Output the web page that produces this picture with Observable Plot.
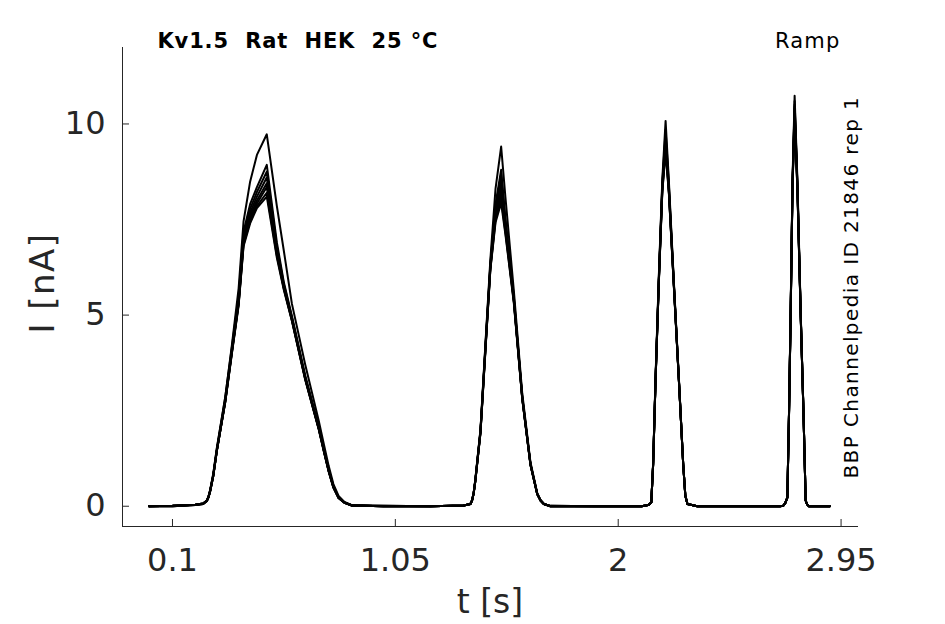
<!DOCTYPE html>
<html><head><meta charset="utf-8">
<script src="https://cdn.jsdelivr.net/npm/d3@7"></script>
<script src="https://cdn.jsdelivr.net/npm/@observablehq/plot@0.6"></script>
<style>
html,body{margin:0;padding:0;background:#fff;}
svg text{white-space:pre;}
</style></head><body><div id="chart"></div>
<script>
// time points (s)
const time = [
 0.000, 0.100, 0.197, 0.231,
 0.247, 0.254, 0.261, 0.274, 0.289, 0.325, 0.353, 0.382,
 0.403, 0.431, 0.460, 0.502,
 0.545, 0.575, 0.609, 0.666, 0.723, 0.746, 0.766, 0.786, 0.808, 0.833, 0.865,
 1.000, 1.200,
 1.341, 1.370, 1.377, 1.384, 1.391, 1.413, 1.434, 1.455, 1.477, 1.501,
 1.519, 1.555, 1.591, 1.626, 1.655, 1.669, 1.683, 1.711,
 1.900, 2.100, 2.129, 2.141, 2.149, 2.159, 2.173, 2.188, 2.202,
 2.216, 2.237, 2.259, 2.277, 2.286, 2.295, 2.337,
 2.500, 2.690, 2.703, 2.712, 2.721, 2.728, 2.735, 2.743, 2.752,
 2.764, 2.778, 2.790, 2.799, 2.805, 2.813, 2.902
];
// currents (nA), one array per sweep
const trace1 = [
 0.00, 0.01, 0.04, 0.07,
 0.15, 0.26, 0.43, 0.84, 1.50, 2.85, 4.20, 5.70,
 7.45, 8.49, 9.19, 9.73,
 7.85, 6.67, 5.30, 3.70, 2.25, 1.60, 1.05, 0.58, 0.27, 0.11, 0.03,
 0.01, 0.00,
 0.02, 0.06, 0.15, 0.35, 0.70, 2.02, 4.25, 6.45, 8.30, 9.41,
 8.10, 5.65, 2.95, 1.15, 0.34, 0.16, 0.06, 0.01,
 0.00, 0.00, 0.04, 0.10, 1.15, 3.35, 6.00, 8.55, 10.08,
 8.50, 5.90, 3.30, 1.12, 0.29, 0.06, 0.00,
 0.00, 0.00, 0.01, 0.08, 0.24, 2.45, 5.10, 8.55, 10.74,
 8.50, 5.05, 2.42, 0.15, 0.05, 0.00, 0.00
];
const trace2 = [
 0.00, 0.01, 0.04, 0.07,
 0.16, 0.27, 0.44, 0.86, 1.52, 2.86, 4.15, 5.50,
 7.19, 7.90, 8.35, 8.93,
 6.90, 5.85, 4.98, 3.42, 2.10, 1.48, 0.96, 0.53, 0.24, 0.10, 0.02,
 0.01, 0.00,
 0.02, 0.06, 0.16, 0.36, 0.70, 2.00, 4.20, 6.35, 7.90, 8.80,
 7.55, 5.50, 2.88, 1.12, 0.33, 0.15, 0.06, 0.01,
 0.00, 0.00, 0.04, 0.10, 1.13, 3.30, 5.95, 8.45, 9.85,
 8.40, 5.85, 3.28, 1.10, 0.28, 0.06, 0.00,
 0.00, 0.00, 0.01, 0.08, 0.23, 2.42, 5.05, 8.45, 10.60,
 8.40, 5.00, 2.40, 0.15, 0.05, 0.00, 0.00
];
const trace3 = [
 0.00, 0.00, 0.03, 0.06,
 0.14, 0.24, 0.40, 0.80, 1.45, 2.78, 4.08, 5.40,
 7.05, 7.78, 8.22, 8.75,
 6.80, 5.80, 4.95, 3.38, 2.07, 1.46, 0.94, 0.52, 0.23, 0.10, 0.02,
 0.00, 0.00,
 0.02, 0.06, 0.15, 0.35, 0.68, 1.98, 4.16, 6.30, 7.80, 8.70,
 7.45, 5.45, 2.85, 1.10, 0.32, 0.15, 0.06, 0.00,
 0.00, 0.00, 0.03, 0.10, 1.12, 3.28, 5.90, 8.40, 9.70,
 8.35, 5.85, 3.27, 1.10, 0.28, 0.06, 0.00,
 0.00, 0.00, 0.01, 0.08, 0.23, 2.40, 5.02, 8.45, 10.50,
 8.38, 5.00, 2.40, 0.15, 0.05, 0.00, 0.00
];
const trace4 = [
 0.00, 0.01, 0.04, 0.07,
 0.15, 0.25, 0.41, 0.81, 1.46, 2.76, 4.05, 5.35,
 6.98, 7.68, 8.10, 8.60,
 6.72, 5.75, 4.92, 3.36, 2.06, 1.45, 0.93, 0.51, 0.23, 0.10, 0.02,
 0.00, 0.00,
 0.02, 0.06, 0.15, 0.34, 0.67, 1.96, 4.14, 6.28, 7.70, 8.50,
 7.38, 5.42, 2.84, 1.10, 0.32, 0.15, 0.06, 0.00,
 0.00, 0.00, 0.03, 0.10, 1.11, 3.27, 5.88, 8.35, 9.60,
 8.30, 5.82, 3.26, 1.10, 0.28, 0.06, 0.00,
 0.00, 0.00, 0.01, 0.08, 0.23, 2.40, 5.00, 8.42, 10.45,
 8.35, 4.98, 2.40, 0.15, 0.05, 0.00, 0.00
];
const trace5 = [
 0.00, 0.00, 0.03, 0.06,
 0.14, 0.24, 0.40, 0.79, 1.44, 2.75, 4.03, 5.32,
 6.93, 7.60, 8.00, 8.45,
 6.65, 5.72, 4.90, 3.34, 2.05, 1.44, 0.92, 0.50, 0.22, 0.09, 0.02,
 0.00, 0.00,
 0.02, 0.06, 0.15, 0.34, 0.67, 1.95, 4.12, 6.25, 7.62, 8.30,
 7.30, 5.40, 2.83, 1.09, 0.31, 0.15, 0.06, 0.00,
 0.00, 0.00, 0.03, 0.10, 1.10, 3.26, 5.86, 8.30, 9.50,
 8.25, 5.80, 3.25, 1.10, 0.28, 0.06, 0.00,
 0.00, 0.00, 0.01, 0.08, 0.23, 2.40, 5.00, 8.40, 10.40,
 8.32, 4.98, 2.40, 0.15, 0.05, 0.00, 0.00
];
const trace6 = [
 0.00, 0.01, 0.04, 0.07,
 0.15, 0.25, 0.41, 0.80, 1.45, 2.74, 4.02, 5.30,
 6.88, 7.52, 7.92, 8.35,
 6.60, 5.70, 4.88, 3.33, 2.04, 1.43, 0.92, 0.50, 0.22, 0.09, 0.02,
 0.00, 0.00,
 0.02, 0.06, 0.15, 0.34, 0.66, 1.94, 4.10, 6.22, 7.55, 8.20,
 7.25, 5.38, 2.82, 1.09, 0.31, 0.15, 0.06, 0.00,
 0.00, 0.00, 0.03, 0.10, 1.10, 3.25, 5.85, 8.28, 9.45,
 8.22, 5.80, 3.25, 1.10, 0.28, 0.06, 0.00,
 0.00, 0.00, 0.01, 0.08, 0.22, 2.38, 4.98, 8.38, 10.30,
 8.28, 4.96, 2.38, 0.15, 0.05, 0.00, 0.00
];
const trace7 = [
 0.00, 0.00, 0.03, 0.06,
 0.14, 0.24, 0.40, 0.79, 1.44, 2.73, 4.00, 5.28,
 6.84, 7.46, 7.85, 8.20,
 6.55, 5.68, 4.86, 3.32, 2.03, 1.42, 0.91, 0.49, 0.22, 0.09, 0.02,
 0.00, 0.00,
 0.02, 0.06, 0.15, 0.34, 0.66, 1.93, 4.08, 6.20, 7.48, 8.05,
 7.18, 5.35, 2.81, 1.08, 0.31, 0.15, 0.06, 0.00,
 0.00, 0.00, 0.03, 0.10, 1.10, 3.24, 5.84, 8.25, 9.35,
 8.20, 5.78, 3.24, 1.10, 0.28, 0.06, 0.00,
 0.00, 0.00, 0.01, 0.08, 0.22, 2.38, 4.97, 8.36, 10.25,
 8.26, 4.95, 2.38, 0.15, 0.05, 0.00, 0.00
];
const trace8 = [
 0.00, 0.01, 0.04, 0.07,
 0.15, 0.25, 0.41, 0.80, 1.45, 2.72, 3.98, 5.25,
 6.80, 7.40, 7.80, 8.10,
 6.50, 5.65, 4.85, 3.30, 2.02, 1.41, 0.90, 0.48, 0.21, 0.09, 0.02,
 0.00, 0.00,
 0.02, 0.06, 0.15, 0.34, 0.65, 1.92, 4.06, 6.18, 7.42, 7.93,
 7.12, 5.32, 2.80, 1.08, 0.31, 0.15, 0.06, 0.00,
 0.00, 0.00, 0.03, 0.10, 1.10, 3.23, 5.82, 8.22, 9.25,
 8.18, 5.76, 3.23, 1.10, 0.28, 0.06, 0.00,
 0.00, 0.00, 0.01, 0.08, 0.22, 2.37, 4.96, 8.34, 10.20,
 8.24, 4.94, 2.37, 0.15, 0.05, 0.00, 0.00
];
const xTicks = [0.1, 1.05, 2, 2.95];
const yTicks = [0, 5, 10];
const titleText = "Kv1.5  Rat  HEK  25 °C";
const protocolText = "Ramp";
const sideText = "BBP Channelpedia ID 21846 rep 1";
const xLabel = "t [s]";
const yLabel = "I [nA]";

const traces = [trace1, trace2, trace3, trace4, trace5, trace6, trace7, trace8];
const data = traces.flatMap((tr, k) => tr.map((v, i) => ({t: time[i], I: v, sweep: k})));
const axisColor = "#262626";

const plot = Plot.plot({
  width: 945, height: 624,
  marginLeft: 122, marginRight: 88, marginTop: 47, marginBottom: 98,
  style: {fontFamily: "DejaVu Sans", background: "#fff", color: axisColor},
  x: {domain: [-0.113, 3.02]},
  y: {domain: [-0.53, 12]},
  marks: [
    Plot.frame({anchor: "left", stroke: axisColor, strokeWidth: 1}),
    Plot.frame({anchor: "bottom", stroke: axisColor, strokeWidth: 1}),
    Plot.axisX(xTicks, {tickSize: -7, tickPadding: 29, fontSize: 32, color: axisColor, tickFormat: d => String(d), label: null}),
    Plot.axisY(yTicks, {tickSize: -7, tickPadding: 24, fontSize: 32, color: axisColor, tickFormat: d => String(d), label: null}),
    Plot.line(data, {x: "t", y: "I", z: "sweep", stroke: "#000", strokeWidth: 2}),
    Plot.text([titleText], {frameAnchor: "top-left", dx: 35, dy: 0, textAnchor: "start", lineAnchor: "bottom", fontWeight: "bold", fontSize: 21, fill: "#000"}),
    Plot.text([protocolText], {frameAnchor: "top-right", dx: -17, dy: 0, textAnchor: "end", lineAnchor: "bottom", fontSize: 21, fill: "#000"}),
    Plot.text([sideText], {frameAnchor: "bottom-right", dx: 0, dy: -48, rotate: -90, textAnchor: "start", lineAnchor: "bottom", fontSize: 20, fill: "#000"}),
    Plot.text([xLabel], {frameAnchor: "bottom", dy: 86, textAnchor: "middle", lineAnchor: "bottom", fontSize: 33, fill: axisColor}),
    Plot.text([yLabel], {frameAnchor: "left", dx: -69, dy: -4, rotate: -90, textAnchor: "middle", lineAnchor: "bottom", fontSize: 34, fill: axisColor})
  ]
});
// glyph spacing as rendered in the reference
const spacing = new Map([[titleText, "0.85px"], [protocolText, "1.2px"], [sideText, "1.4px"], [yLabel, "1.5px"]]);
d3.select(plot).selectAll("text").each(function() {
  const s = spacing.get(this.textContent);
  if (s) this.style.letterSpacing = s;
});
document.getElementById("chart").appendChild(plot);
</script></body></html>
